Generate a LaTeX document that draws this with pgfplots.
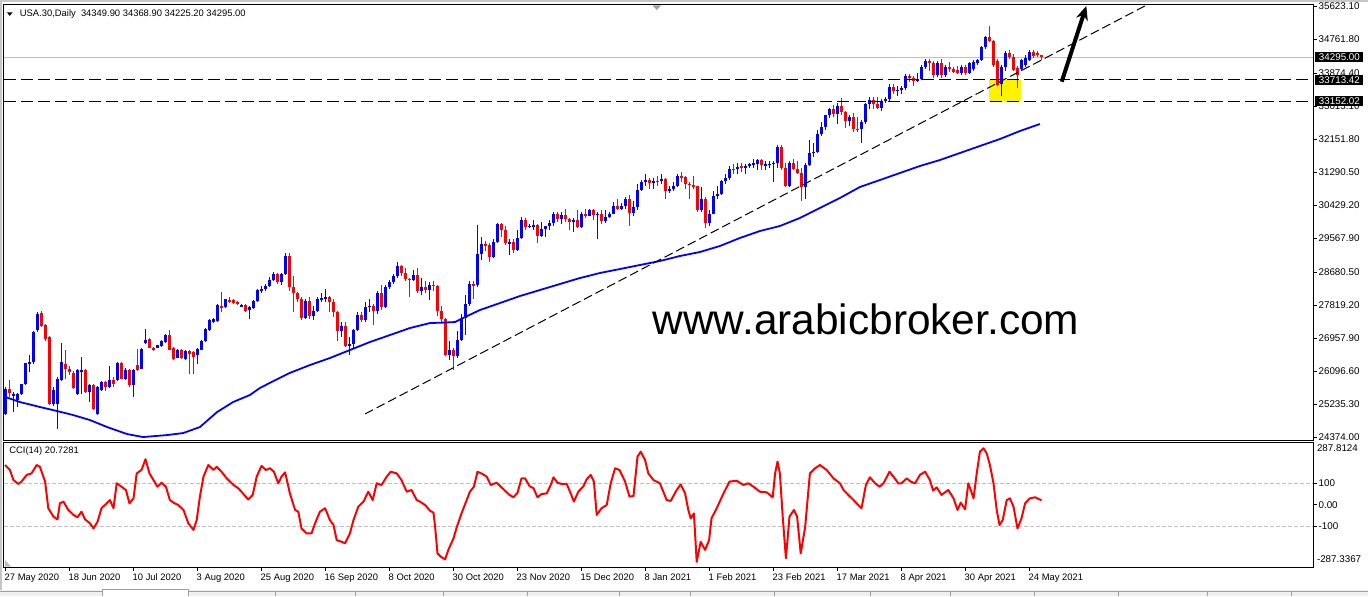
\documentclass[border=0pt]{standalone}
\usepackage{pgfplots}
\pgfplotsset{compat=1.18}
\usepackage{pgfplotstable}
\usepackage{fontspec}
\setmainfont{Liberation Sans}
\usetikzlibrary{arrows.meta}

\definecolor{mtred}{RGB}{255,0,0}
\definecolor{mtblue}{RGB}{0,0,255}
\definecolor{lvlgray}{RGB}{192,192,192}
\definecolor{framegray}{RGB}{160,160,160}
\definecolor{tabgray}{RGB}{240,240,240}

\newcommand{\smallf}{\fontsize{4.7}{5.6}\selectfont}
\newcommand{\pricef}{\fontsize{4.9}{5.8}\selectfont}

% daily candles, bar index from 27 May 2020
\pgfplotstableread{
i o h l c
0 24993 25700 24950 25647
1 25630 25865 25430 25543
2 25473 25560 25040 25516
3 25342 25540 25170 25516
4 25516 25780 25480 25760
5 25760 26330 25740 26319
6 26302 26520 26084 26345
7 26345 27150 26300 27130
8 27191 27650 27120 27592
9 27627 27680 27250 27278
10 27304 27330 26900 26955
11 26999 27020 25230 25255
12 25255 25700 25200 25604
13 25255 25950 24601 25909
14 25866 26840 25850 26345
15 26284 26668 25909 26171
16 26171 26250 26000 26084
17 26057 26100 25650 25673
18 25516 26150 25480 26127
19 26110 26476 25516 26127
20 26127 26150 25530 25560
21 25560 25780 25298 25752
22 25734 25760 25100 25124
23 24993 25710 24960 25691
24 25621 25850 25600 25822
25 25822 25850 25600 25691
26 25691 26231 25670 25883
27 25883 25950 25700 25760
28 25883 26340 25860 26319
29 26319 26340 25890 25909
30 25909 26200 25880 26145
31 26145 26170 25700 25734
32 25734 26150 25429 26127
33 26258 26694 26100 26127
34 26171 26720 26150 26694
35 26842 27217 26820 26929
36 26955 26980 26700 26720
37 26720 26740 26620 26650
38 26720 26800 26700 26781
39 26755 26920 26730 26894
40 26868 27080 26850 27043
41 27043 27190 26650 26667
42 26720 26740 26410 26432
43 26458 26690 26440 26667
44 26667 26690 26430 26449
45 26432 26650 26410 26633
46 26624 26650 26040 26563
47 26598 26620 26040 26476
48 26537 26710 26300 26694
49 26667 26910 26650 26894
50 26894 27240 26870 27217
51 27191 27470 27150 27453
52 27391 27500 27370 27470
53 27418 27850 27400 27828
54 27801 28176 27653 27784
55 27784 28000 27760 27976
56 27958 28050 27880 27906
57 27958 27990 27860 27889
58 27915 27940 27830 27854
59 27801 27850 27780 27828
60 27828 27850 27650 27679
61 27714 27800 27478 27784
62 27766 27960 27740 27941
63 27941 28240 27920 28220
64 28220 28330 28150 28249
65 28249 28380 28200 28332
66 28332 28560 28300 28492
67 28492 28700 28450 28654
68 28654 28680 28380 28430
69 28430 28680 28350 28646
70 28646 29199 28620 29100
71 29100 29180 28200 28292
72 28292 28600 27660 28133
73 28133 28180 27900 27990
74 27990 28050 27450 27501
75 27501 27990 27480 27940
76 27940 28050 27480 27535
77 27535 27800 27450 27666
78 27666 28050 27650 27993
79 27993 28150 27900 27996
80 27996 28250 27900 28032
81 28032 28060 27650 27902
82 27902 28000 27530 27657
83 27657 27680 26900 27148
84 27148 27400 27000 27289
85 27289 27400 26730 26763
86 26763 27000 26540 26815
87 26815 27200 26680 27174
88 27174 27650 27150 27584
89 27584 27650 27380 27452
90 27452 27900 27400 27782
91 27782 28000 27650 27817
92 27817 27850 27300 27683
93 27683 28200 27600 28149
94 28149 28350 27700 27773
95 27773 28350 27750 28303
96 28303 28480 28250 28426
97 28426 28650 28380 28587
98 28587 28950 28550 28838
99 28838 28880 28600 28680
100 28680 28800 28450 28514
101 28514 28550 28050 28494
102 28494 28750 28450 28606
103 28606 28800 28150 28196
104 28196 28550 28100 28309
105 28309 28450 28150 28211
106 28211 28420 27950 28364
107 28364 28450 28200 28336
108 28336 28350 27550 27685
109 27685 27800 27400 27463
110 27463 27500 26500 26520
111 26520 26900 26400 26660
112 26660 26700 26143 26502
113 26502 27150 26450 26925
114 26925 27600 26900 27481
115 27481 28100 27050 27848
116 27848 28450 27800 28390
117 28390 28450 28000 28323
118 28350 29933 28300 29158
119 29158 29600 29000 29421
120 29421 29500 29250 29398
121 29398 29450 28950 29080
122 29080 29550 29050 29480
123 29480 29960 29450 29950
124 29950 29980 29600 29784
125 29784 29900 29400 29438
126 29438 29550 29150 29483
127 29483 29550 29200 29263
128 29263 29800 29250 29592
129 29592 30120 29550 30046
130 30046 30100 29800 29872
131 29872 29950 29850 29900
132 29900 30050 29800 29910
133 29910 29950 29450 29639
134 29639 30000 29600 29824
135 29824 29900 29600 29883
136 29883 30050 29800 29969
137 29969 30250 29900 30218
138 30218 30250 30000 30070
139 30070 30250 29950 30174
140 30174 30350 30000 30068
141 30068 30100 29800 29999
142 29999 30100 29750 30046
143 30046 30300 29850 29861
144 29861 30250 29850 30200
145 30200 30350 30100 30155
146 30155 30350 30150 30304
147 30304 30350 30050 30180
148 30180 30250 29560 30216
149 30216 30300 29950 30015
150 30015 30300 29980 30129
151 30129 30250 30100 30200
152 30200 30530 30200 30404
153 30404 30600 30300 30335
154 30335 30500 30300 30409
155 30409 30650 30350 30606
156 30606 30700 29900 30223
157 30223 30550 30150 30392
158 30392 31000 30300 30829
159 30829 31100 30800 31041
160 31041 31250 30950 31098
161 31098 31150 30850 31009
162 31009 31150 30850 31068
163 31068 31200 30950 31061
164 31061 31250 31000 31112
165 31112 31150 30600 30814
166 30814 30950 30750 30850
167 30850 31050 30800 30930
168 30930 31250 30900 31188
169 31188 31300 31050 31176
170 31176 31200 30850 30997
171 30997 31050 30600 30960
172 30960 31200 30850 30937
173 30937 30950 30250 30303
174 30303 30900 30250 30603
175 30603 30650 29850 29983
176 29983 30300 29900 30212
177 30212 30800 30200 30687
178 30687 30950 30600 30724
179 30724 31100 30700 31056
180 31056 31250 31000 31148
181 31148 31450 31100 31386
182 31386 31500 31250 31375
183 31375 31550 31250 31438
184 31438 31550 31300 31431
185 31431 31500 31250 31458
186 31458 31550 31420 31500
187 31500 31650 31400 31523
188 31523 31650 31350 31613
189 31613 31650 31350 31494
190 31494 31600 31350 31494
191 31494 31600 31400 31522
192 31522 31600 31050 31537
193 31537 32000 31400 31962
194 31962 32010 31350 31402
195 31402 31550 30900 30932
196 30932 31600 30900 31535
197 31535 31650 31350 31391
198 31391 31600 31250 31270
199 31270 31400 30547 30924
200 30924 31550 30600 31496
201 31496 32150 31450 31802
202 31802 32050 31700 31833
203 31833 32400 31800 32297
204 32297 32600 32250 32485
205 32485 32800 32400 32779
206 32779 32980 32700 32953
207 32953 33050 32750 32826
208 32826 33100 32550 33015
209 33015 33227 32800 32862
210 32862 32900 32450 32628
211 32628 32800 32500 32732
212 32732 32850 32350 32423
213 32423 32750 32350 32420
214 32420 32650 32050 32620
215 32620 33100 32550 33073
216 33073 33250 32950 33171
217 33171 33250 32950 33067
218 33067 33250 32950 32982
219 32982 33200 32900 33153
220 33153 33250 33100 33200
221 33200 33600 33150 33527
222 33527 33600 33350 33430
223 33430 33550 33300 33446
224 33446 33550 33350 33504
225 33504 33850 33450 33800
226 33800 33850 33650 33745
227 33745 33800 33550 33677
228 33677 33900 33650 33731
229 33731 34100 33700 34036
230 34036 34250 34000 34200
231 34200 34250 33950 34140
232 34140 34190 33760 33835
233 33835 34200 33780 34157
234 34157 34250 33760 33835
235 33835 34100 33780 34053
236 34053 34183 33922 33983
237 33983 34050 33880 33922
238 33966 34060 33850 33879
239 33879 34100 33830 34053
240 34053 34100 33830 33879
241 33879 34180 33850 34140
242 33990 34227 33950 34183
243 34140 34260 34100 34227
244 34227 34580 34200 34558
245 34558 34850 34520 34819
246 34819 35114 34700 34732
247 34732 34760 34050 34097
248 34200 34250 33550 33574
249 33600 34100 33290 34040
250 34040 34450 33950 34400
251 34400 34480 34250 34314
252 34314 34380 33940 33966
253 34010 34060 33487 33835
254 33983 34250 33950 34227
255 34100 34350 34050 34270
256 34227 34480 34200 34444
257 34444 34500 34280 34331
258 34401 34450 34300 34357
259 34349.9 34368.9 34225.2 34295
}\candles

\pgfplotstableread{
i v
-0.1 185
1.1 162
2.0 115
3.2 97
4.0 108
5.3 139
6.5 146
7.8 185
8.6 177
9.9 108
10.7 -16
12.0 -55
13.0 -68
13.6 7
14.5 15
15.7 -24
17.0 -47
18.0 -58
19.0 -32
19.9 -68
21.1 -86
22.0 -110
23.0 -79
24.0 -16
25.3 7
26.1 22
27.0 -16
27.8 100
29.0 84
30.1 69
31.0 7
32.0 30
32.8 146
34.0 162
35.0 212
36.0 146
37.0 115
38.0 84
39.0 103
40.1 84
41.1 22
42.0 10
43.2 -1
44.5 -24
45.7 -86
47.0 -117
47.8 -71
48.6 38
49.5 131
50.7 185
52.0 162
52.8 177
54.0 154
55.3 123
57.0 92
58.2 77
59.5 50
60.7 25
61.8 46
62.8 131
64.0 181
65.1 162
66.1 170
67.1 154
68.2 100
69.0 131
69.9 151
71.1 53
72.4 -24
73.2 -32
74.0 -110
75.3 -133
76.5 -133
77.4 -86
78.6 -32
79.9 -16
81.1 -71
82.0 -94
82.8 -164
84.0 -172
84.9 -179
86.1 -133
87.0 -71
88.2 -9
89.5 15
90.7 61
91.8 22
92.8 100
94.0 92
95.3 131
96.3 154
97.8 146
99.0 115
100.3 61
101.5 69
102.8 22
103.6 15
104.9 -1
106.1 -27
107.0 -37
107.4 -102
108.0 -226
108.8 -241
109.9 -254
110.7 -210
112.0 -156
112.8 -105
114.0 -40
115.3 22
116.1 61
117.1 84
118.0 154
119.3 143
120.3 131
121.3 92
122.8 103
124.5 72
126.0 46
127.0 35
128.0 56
129.0 123
129.9 123
131.0 87
132.0 77
133.0 35
134.0 50
135.3 53
136.3 92
137.0 128
138.0 103
139.0 97
140.3 97
141.3 53
142.1 15
143.2 61
144.5 87
145.3 119
146.3 139
147.1 108
147.8 -47
149.0 -16
150.3 -1
151.3 100
152.4 170
153.5 162
154.9 108
156.0 38
157.0 41
158.0 224
158.8 247
159.9 208
160.7 146
162.0 115
163.6 100
165.3 22
166.3 18
167.8 69
168.8 95
169.9 53
170.7 -24
171.3 -63
172.1 -40
172.8 -265
173.8 -172
174.9 -210
175.9 -164
176.5 -63
177.8 -16
179.5 53
181.0 108
182.8 112
184.5 92
185.7 100
187.0 84
188.6 61
190.3 58
191.8 35
192.4 146
193.0 201
193.6 146
194.3 -55
195.1 -249
196.0 -55
197.1 -24
197.9 -55
198.8 -226
199.9 -105
201.1 146
202.4 170
203.6 185
205.3 162
207.0 123
208.6 100
209.5 69
210.7 46
212.0 22
213.2 -1
214.0 -16
215.1 92
216.1 128
217.4 100
218.5 84
219.5 100
221.0 154
222.1 128
223.2 100
224.0 100
225.3 123
226.3 108
227.4 100
228.6 139
229.9 154
231.1 115
231.9 66
232.8 81
234.0 46
235.7 69
237.0 30
238.0 -24
238.8 10
239.9 -21
240.7 100
241.3 69
242.0 30
242.8 146
243.6 247
244.5 263
245.3 239
246.1 185
247.0 100
247.8 -24
248.5 -94
249.3 -71
250.3 22
251.1 30
252.0 -9
253.0 -110
254.0 -63
254.9 7
256.1 30
257.4 35
259.0 20.7
}\cci

\pgfplotsset{
  mtaxis/.style={
    anchor=south west, scale only axis,
    width=654.5pt, xmin=-0.375, xmax=326.875,
    axis line style={line width=0.5pt},
    tick align=outside, major tick length=2pt,
    tick style={black, line width=0.5pt},
    ytick pos=right, yticklabel pos=right,
    yticklabel style={font=\pricef, anchor=west, inner sep=0pt, xshift=0.6pt},
    clip mode=individual,
  },
  wick/.style={draw=none, mark=none, forget plot,
    error bars/.cd, y dir=both, y explicit, error mark=none,
    error bar style={draw=#1, line width=0.5pt}},
  body/.style={draw=none, mark=none, forget plot,
    error bars/.cd, y dir=both, y explicit, error mark=none,
    error bar style={draw=#1, line width=1.5pt}},
}

\begin{document}
\begin{tikzpicture}
\useasboundingbox (0,0) rectangle (684pt,298pt);
\fill[white] (0,0) rectangle (684pt,298pt);

% price panel
\begin{axis}[mtaxis,
  at={(2pt,78pt)}, height=217.5pt,
  ymin=24309, ymax=35662,
  xtick=\empty,
  ytick={35623.10,34761.80,33874.40,33013.10,32151.80,31290.50,30429.20,29567.90,28680.50,27819.20,26957.90,26096.60,25235.30,24374.00},
  yticklabels={35623.10,34761.80,33874.40,33013.10,32151.80,31290.50,30429.20,29567.90,28680.50,27819.20,26957.90,26096.60,25235.30,24374.00},
]
% yellow zone
\addplot[fill=yellow, draw=none, forget plot] coordinates {(245.9,33713.42) (253.8,33713.42) (253.8,33152.02) (245.9,33152.02)} -- cycle;
% current price line
\addplot[lvlgray, line width=0.5pt, forget plot] coordinates {(-0.375,34295) (326.875,34295)};
% candles: wicks then bodies
\addplot[restrict expr to domain={\thisrow{c}-\thisrow{o}}{0:100000}, wick=mtblue]
  table[x=i, y expr={(\thisrow{h}+\thisrow{l})/2}, y error expr={(\thisrow{h}-\thisrow{l})/2}] {\candles};
\addplot[restrict expr to domain={\thisrow{c}-\thisrow{o}}{-100000:-0.001}, wick=mtred]
  table[x=i, y expr={(\thisrow{h}+\thisrow{l})/2}, y error expr={(\thisrow{h}-\thisrow{l})/2}] {\candles};
\addplot[restrict expr to domain={\thisrow{c}-\thisrow{o}}{0:100000}, body=mtblue]
  table[x=i, y expr={(\thisrow{o}+\thisrow{c})/2}, y error expr={max(abs(\thisrow{c}-\thisrow{o})/2,14)}] {\candles};
\addplot[restrict expr to domain={\thisrow{c}-\thisrow{o}}{-100000:-0.001}, body=mtred]
  table[x=i, y expr={(\thisrow{o}+\thisrow{c})/2}, y error expr={max(abs(\thisrow{c}-\thisrow{o})/2,14)}] {\candles};
% moving average
\addplot[mtblue, line width=0.9pt, forget plot] coordinates {
 (0,25431) (3.6,25300) (8.6,25170) (12.9,25065) (16.9,24961) (21.1,24830)
 (25.4,24647) (30.4,24464) (34.4,24386) (40.4,24438) (44.4,24490) (48.6,24647)
 (52.9,25039) (56.9,25300) (61.1,25483) (63.6,25666) (66.1,25800) (71.1,26060)
 (76.1,26265) (81.1,26448) (86.1,26657) (91.1,26866) (96.1,27048) (101.1,27231)
 (106.1,27361) (110,27375) (112.4,27388) (114.9,27518) (118.6,27701) (123.6,27883)
 (128.6,28066) (133.6,28223) (138.6,28380) (143.6,28536) (148.6,28667) (153.6,28771)
 (158.6,28876) (163.6,28980) (168.6,29111) (173.6,29215) (178.6,29372) (183.6,29581)
 (188.6,29763) (193.6,29894) (198.6,30103) (203.6,30364) (208.6,30625) (213.6,30912)
 (218.6,31094) (223.6,31277) (228.6,31460) (233.6,31616) (238.6,31799) (243.6,31982)
 (248.6,32164) (253.6,32373) (258.6,32556)};
% support lines
\addplot[black, line width=0.6pt, dash pattern=on 6pt off 2.5pt, forget plot] coordinates {(-0.375,33713.42) (326.875,33713.42)};
\addplot[black, line width=0.6pt, dash pattern=on 6pt off 2.5pt, forget plot] coordinates {(-0.375,33152.02) (326.875,33152.02)};
% trend line
\addplot[black, line width=0.5pt, dash pattern=on 4.5pt off 2pt, forget plot] coordinates {(89.9,24990) (285.3,35662)};
% arrow
\addplot[black, line width=2pt, -{Stealth[length=7pt,width=6pt]}, forget plot] coordinates {(264.05,33660) (270.2,35636)};
% price tags
\node[fill=black, text=white, font=\pricef, inner sep=0pt, minimum width=24pt, minimum height=5pt, anchor=west, xshift=1pt] at (axis cs:326.875,34295) {34295.00};
\node[fill=black, text=white, font=\pricef, inner sep=0pt, minimum width=24pt, minimum height=5pt, anchor=west, xshift=1pt] at (axis cs:326.875,33713.42) {33713.42};
\node[fill=black, text=white, font=\pricef, inner sep=0pt, minimum width=24pt, minimum height=5pt, anchor=west, xshift=1pt] at (axis cs:326.875,33152.02) {33152.02};
\end{axis}

% CCI panel
\begin{axis}[mtaxis,
  at={(2pt,14.5pt)}, height=62.5pt,
  ymin=-289.3, ymax=292.1,
  xtick={0,16,32,48,64,80,96,112,128,144,160,176,192,208,224,240,256},
  xticklabels={27 May 2020,18 Jun 2020,10 Jul 2020,3 Aug 2020,25 Aug 2020,16 Sep 2020,8 Oct 2020,30 Oct 2020,23 Nov 2020,15 Dec 2020,8 Jan 2021,1 Feb 2021,23 Feb 2021,17 Mar 2021,8 Apr 2021,30 Apr 2021,24 May 2021},
  xtick pos=bottom,
  xticklabel style={font=\smallf, anchor=north west, inner sep=0pt, xshift=-0.6pt, yshift=-1.2pt},
  ytick={100,0,-100}, yticklabels={100,0.00,-100},
]
\addplot[lvlgray, line width=0.5pt, dash pattern=on 2pt off 1pt, forget plot] coordinates {(-0.375,100) (326.875,100)};
\addplot[lvlgray, line width=0.5pt, dash pattern=on 2pt off 1pt, forget plot] coordinates {(-0.375,-100) (326.875,-100)};
\addplot[mtred, line width=1pt, line join=round] table[x=i, y=v] {\cci};
\node[font=\pricef, anchor=west, inner sep=0pt, xshift=1.8pt, yshift=-3.15pt] at (rel axis cs:1,1) {287.8124};
\node[font=\pricef, anchor=west, inner sep=0pt, xshift=1.8pt, yshift=3.85pt] at (rel axis cs:1,0) {-287.3367};
\end{axis}

% window decorations and captions, pixel coordinates
\begin{scope}[x=0.5pt, y=-0.5pt, yshift=298pt]
\fill[framegray!60] (0,0) rectangle (1368,2);
\fill[framegray!60] (0,0) rectangle (2,590);
\fill[black] (6.8,12.3) -- (12.7,12.3) -- (9.75,15.8) -- cycle;
\node[anchor=base west, inner sep=0pt, font=\smallf] at (19.5,16.8) {USA.30,Daily\ \ 34349.90 34368.90 34225.20 34295.00};
\node[anchor=base west, inner sep=0pt, font=\smallf] at (9,453.3) {CCI(14) 20.7281};
\fill[framegray] (652.5,5.5) -- (661,5.5) -- (656.7,10) -- cycle;
\fill[framegray!70] (5,566.5) -- (5,560) -- (11,566.5) -- cycle;
\node[anchor=base, inner sep=0pt, font=\fontsize{21.2}{24}\selectfont] at (866,334) {www.arabicbroker.com};
% tab strip
\fill[tabgray] (0,590) rectangle (1368,596);
\draw[framegray, line width=0.5pt] (0,591) -- (102,591);
\draw[framegray, line width=0.5pt] (189,591) -- (1368,591);
\fill[white] (102.5,589) rectangle (188.5,596);
\draw[framegray, line width=0.5pt] (102.5,596) -- (102.5,589) -- (188.5,589) -- (188.5,596);
\foreach \sx in {275,355,443,527,619,690,774,870,950,1034,1118,1207,1291}
  \draw[framegray, line width=0.5pt] (\sx,592) -- (\sx,596);
\end{scope}
\end{tikzpicture}
\end{document}
